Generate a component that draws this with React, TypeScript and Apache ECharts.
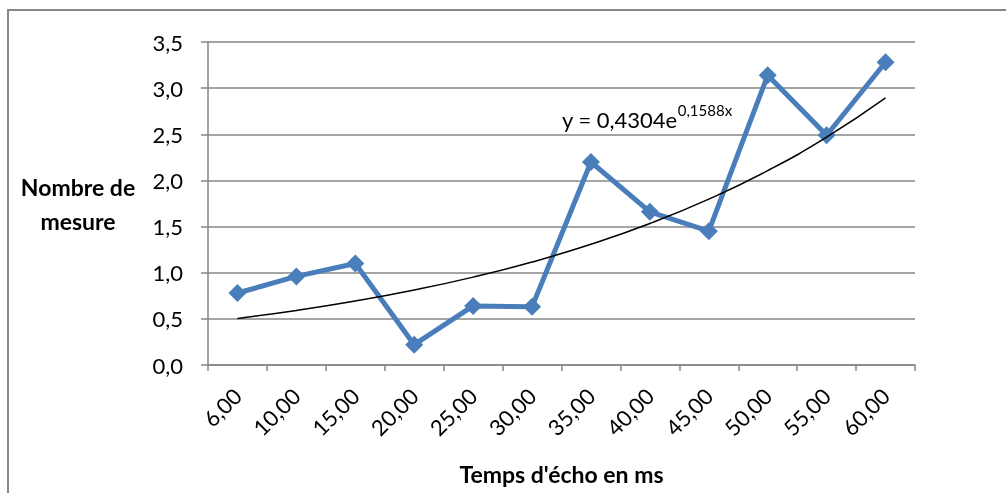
import React, { useEffect, useRef } from "react";
import * as echarts from "echarts";

const categories = ["6,00", "10,00", "15,00", "20,00", "25,00", "30,00", "35,00", "40,00", "45,00", "50,00", "55,00", "60,00"];
const measures = [0.78, 0.96, 1.1, 0.22, 0.64, 0.63, 2.2, 1.66, 1.45, 3.14, 2.49, 3.28];
// exponential trend line values y = 0,4304e^(0,1588x), x = 1..12
const trendValues = [0.5045, 0.5913, 0.693, 0.8123, 0.9521, 1.116, 1.308, 1.5331, 1.797, 2.1062, 2.4687, 2.8935];
const yTicks = ["0,0", "0,5", "1,0", "1,5", "2,0", "2,5", "3,0", "3,5"];
const trendMain = "y = 0,4304e";
const trendSup = "0,1588x";
const xTitle = "Temps d'écho en ms";
const yTitle = "Nombre de\nmesure";

const FONT = "Lato, 'Noto Sans', sans-serif";
const GRAY = "#868686";

export default function App() {
  const ref = useRef<HTMLDivElement>(null);
  useEffect(() => {
    if (!ref.current) return;
    const chart = echarts.init(ref.current, null, { renderer: "svg" });
    chart.setOption({
      animation: false,
      textStyle: { fontFamily: FONT, color: "#000" },
      grid: { left: 208, right: 91, top: 42, bottom: 128, containLabel: false, outerBoundsMode: "none" },
      xAxis: {
        type: "category",
        data: categories,
        boundaryGap: true,
        axisLine: { lineStyle: { color: GRAY, width: 1.5 } },
        axisTick: { show: true, interval: 0, length: 6, lineStyle: { color: GRAY, width: 1.5 } },
        axisLabel: { interval: 0, rotate: 45, margin: 27, fontSize: 22, color: "#000", fontFamily: FONT },
        name: xTitle,
        nameLocation: "middle",
        nameGap: 97,
        nameTextStyle: { fontSize: 23, fontWeight: "bold", color: "#000", fontFamily: FONT },
      },
      yAxis: {
        type: "value",
        min: 0,
        max: 3.5,
        interval: 0.5,
        axisLine: { show: true, lineStyle: { color: GRAY, width: 1.5 } },
        axisTick: { show: true, length: 7, lineStyle: { color: GRAY, width: 1.5 } },
        axisLabel: {
          fontSize: 22,
          margin: 25,
          color: "#000",
          fontFamily: FONT,
          formatter: (v: number) => yTicks[Math.round(v / 0.5)] ?? "",
        },
        splitLine: { show: true, lineStyle: { color: GRAY, width: 1.5 } },
        name: yTitle,
        nameLocation: "middle",
        nameRotate: 0,
        nameGap: 130,
        nameTextStyle: { fontSize: 23, fontWeight: "bold", color: "#000", fontFamily: FONT, align: "center", lineHeight: 34 },
      },
      series: [
        {
          type: "line",
          data: measures,
          symbol: "diamond",
          symbolSize: 18,
          lineStyle: { color: "#4A7EBB", width: 5 },
          itemStyle: { color: "#4A7EBB" },
          z: 3,
        },
        {
          type: "line",
          data: trendValues,
          smooth: true,
          symbol: "none",
          lineStyle: { color: "#000", width: 1.5 },
          z: 4,
        },
      ],
      graphic: [
        {
          type: "rect",
          shape: { x: 8, y: 10, width: 1200, height: 800 },
          style: { fill: "none", stroke: GRAY, lineWidth: 2 },
          silent: true,
        },
        {
          type: "text",
          x: 562,
          y: 102,
          style: {
            text: `{m|${trendMain}}{s|${trendSup}}`,
            fontFamily: FONT,
            rich: {
              m: { fontSize: 22, fontFamily: FONT, fill: "#000", lineHeight: 28, verticalAlign: "bottom" },
              s: { fontSize: 15, fontFamily: FONT, fill: "#000", lineHeight: 28, verticalAlign: "top" },
            },
          },
        },
      ],
    });
    return () => chart.dispose();
  }, []);
  return <div ref={ref} style={{ position: "fixed", left: 0, top: 0, width: 1006, height: 493 }} />;
}
